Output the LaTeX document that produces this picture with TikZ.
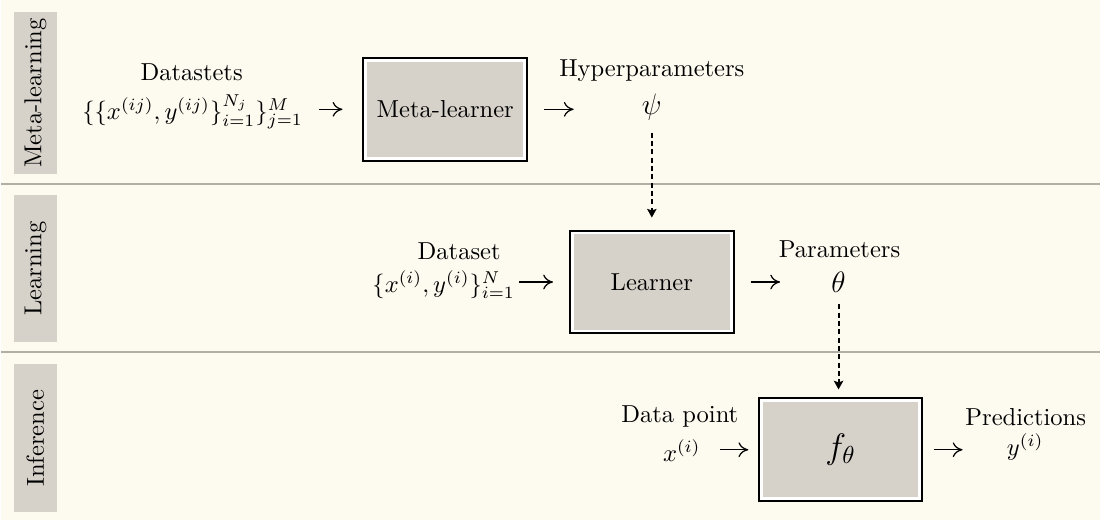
\documentclass[tikz,border=0pt]{standalone}
\usepackage{amsmath}
\usetikzlibrary{arrows.meta, positioning, calc}
\definecolor{bgcolor}{RGB}{253,250,240}
\definecolor{blockcolor}{RGB}{214,210,202}
\definecolor{rulecolor}{RGB}{178,174,165}

\begin{document}
\begin{tikzpicture}[
    block/.style={draw=white, line width=1.2pt, fill=blockcolor, minimum width=64.7pt, minimum height=39.9pt, outer sep=0pt, preaction={draw=black, line width=2.8pt}},
    phase/.style={fill=blockcolor, rotate=90, minimum height=0.614cm, inner sep=0pt},
    label/.style={inner sep=0pt},
    flow/.style={-{To[length=4pt, width=6pt]}, line width=0.5pt},
    feed/.style={-{Stealth[length=3.5pt, width=3.8pt, inset=0.6pt]}, line width=0.8pt, dash pattern=on 2pt off 1.4pt},
    rule/.style={draw=rulecolor, line width=0.8pt}
]
    % Background and separators
    \fill[bgcolor] (0,0) rectangle (15.733,7.445);
    \draw[rule] (0,4.816) -- (15.733,4.816);
    \draw[rule] (0,2.400) -- (15.733,2.400);

    % Phase labels
    \node[phase, minimum width=2.315cm] (metaphase) at (0.493,6.116) {Meta-learning};
    \node[phase, minimum width=2.115cm] (learnphase) at (0.493,3.601) {Learning};
    \node[phase, minimum width=2.115cm] (inferphase) at (0.493,1.172) {Inference};

    % Meta-learning
    \node[label] (datasets) at (2.744,5.845) {$\{\{x^{(ij)}, y^{(ij)}\}_{i=1}^{N_j}\}_{j=1}^{M}$};
    \node[label] (datasetstitle) at (2.729,6.416) {Datastets};
    \node[block] (metalearner) at (6.359,5.880) {Meta-learner};
    \node[label] (hypertitle) at (9.317,6.431) {Hyperparameters};
    \node[label, font=\large] (psi) at (9.317,5.916) {$\psi$};

    % Learning
    \node[label] (dataset) at (6.338,3.372) {$\{x^{(i)}, y^{(i)}\}_{i=1}^{N}$};
    \node[label] (datasettitle) at (6.559,3.844) {Dataset};
    \node[block] (learner) at (9.317,3.408) {Learner};
    \node[label] (paramtitle) at (12.004,3.873) {Parameters};
    \node[label, font=\large] (theta) at (11.99,3.401) {$\theta$};

    % Inference
    \node[label] (xi) at (9.746,1.0) {$x^{(i)}$};
    \node[label] (pointtitle) at (9.717,1.486) {Data point};
    \node[block, font=\Large] (model) at (12.018,1.007) {$f_\theta$};
    \node[label] (predtitle) at (14.669,1.472) {Predictions};
    \node[label] (yi) at (14.662,1.043) {$y^{(i)}$};

    % Arrows
    \draw[flow, shorten <=6.5pt, shorten >=9.5pt] (datasets.east |- metalearner.west) -- (metalearner.west);
    \draw[flow, shorten <=7.9pt, shorten >=27.6pt] (metalearner.east) -- (metalearner.east -| psi.west);
    \draw[flow, shorten <=1.6pt, shorten >=7.9pt] (dataset.east |- learner.west) -- (learner.west);
    \draw[flow, shorten <=7.9pt, shorten >=20.7pt] (learner.east) -- (learner.east -| theta.west);
    \draw[flow, shorten <=7.7pt, shorten >=5.2pt] (xi.east |- model.west) -- (model.west);
    \draw[flow, shorten <=5.6pt, shorten >=17.9pt] (model.east) -- (model.east -| yi.west);

    % Dashed feeds
    \draw[feed, shorten <=5pt, shorten >=6.3pt] (psi.south) -- (psi.south |- learner.north);
    \draw[feed, shorten <=4.5pt, shorten >=4.6pt] (theta.south) -- (theta.south |- model.north);
\end{tikzpicture}
\end{document}
